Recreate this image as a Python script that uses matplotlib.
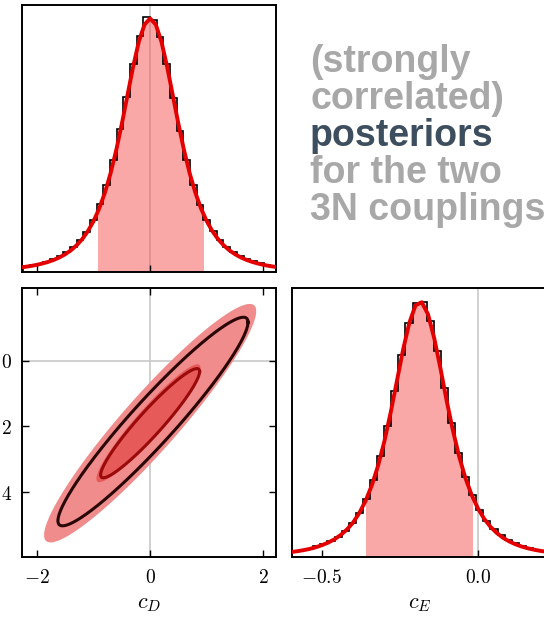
import numpy as np
import matplotlib
matplotlib.use("Agg")
import matplotlib.pyplot as plt
from matplotlib.patches import Rectangle
from matplotlib.ticker import FuncFormatter

plt.rcParams['mathtext.fontset'] = 'cm'

# marginal posterior of c_D (peak normalised to 1)
cD_edges = np.linspace(-2.24, 2.24, 39)
cD_hist = [0.024, 0.027, 0.032, 0.041, 0.050, 0.062, 0.079, 0.097, 0.125, 0.158,
           0.205, 0.268, 0.345, 0.442, 0.565, 0.690, 0.820, 0.930, 1.005, 0.995,
           0.925, 0.822, 0.688, 0.556, 0.440, 0.342, 0.266, 0.207, 0.162, 0.126,
           0.100, 0.080, 0.064, 0.052, 0.042, 0.034, 0.028, 0.023]
cD_grid = np.linspace(-2.3, 2.3, 47)
cD_curve = [0.0177, 0.0206, 0.0241, 0.0284, 0.0337, 0.0401, 0.0480, 0.0579, 0.0702, 0.0857,
            0.1052, 0.1298, 0.1611, 0.2006, 0.2504, 0.3124, 0.3887, 0.4797, 0.5843, 0.6976,
            0.8102, 0.9082, 0.9758, 1.0000, 0.9758, 0.9082, 0.8102, 0.6976, 0.5843, 0.4797,
            0.3887, 0.3124, 0.2504, 0.2006, 0.1611, 0.1298, 0.1052, 0.0857, 0.0702, 0.0579,
            0.0480, 0.0401, 0.0337, 0.0284, 0.0241, 0.0206, 0.0177]
cD_band = (-0.93, 0.93)

# marginal posterior of c_E
cE_edges = np.linspace(-0.596, 0.222, 37)
cE_hist = [0.022, 0.026, 0.032, 0.040, 0.050, 0.062, 0.079, 0.101, 0.131, 0.172,
           0.226, 0.300, 0.395, 0.512, 0.648, 0.790, 0.915, 0.995, 1.000, 0.925,
           0.805, 0.662, 0.525, 0.405, 0.312, 0.240, 0.184, 0.140, 0.108, 0.085,
           0.067, 0.053, 0.043, 0.035, 0.028, 0.023]
cE_grid = np.linspace(-0.60, 0.24, 43)
cE_curve = [0.0180, 0.0213, 0.0254, 0.0304, 0.0370, 0.0451, 0.0553, 0.0682, 0.0850, 0.1066,
            0.1343, 0.1718, 0.2192, 0.2802, 0.3572, 0.4519, 0.5634, 0.6870, 0.8115, 0.9163,
            0.9853, 0.9973, 0.9498, 0.8555, 0.7370, 0.6096, 0.4937, 0.3914, 0.3076, 0.2416,
            0.1891, 0.1486, 0.1175, 0.0933, 0.0745, 0.0601, 0.0487, 0.0399, 0.0329, 0.0273,
            0.0229, 0.0192, 0.0163]
cE_band = (-0.36, -0.02)

# joint posterior contours: (centre cD, centre cE, half length in cD, half width in cE, slope)
fill_outer = (0.0, -0.19, 1.875, 0.125, 0.182)
fill_inner = (-0.03, -0.19, 0.92, 0.060, 0.184)
line_outer = (0.05, -0.185, 1.68, 0.098, 0.180)
line_inner = (0.0, -0.19, 0.875, 0.054, 0.180)

cD_lim = (-2.265, 2.225)
cE_lim = (-0.597, 0.222)

red = '#e40000'
gray = '#c8c8c8'


def outline(p, n=300):
    x0, y0, a, b, k = p
    t = np.linspace(0, 2 * np.pi, n)
    return x0 + a * np.cos(t), y0 + k * a * np.cos(t) + b * np.sin(t)


def style(ax, lw=1.4):
    for s in ax.spines.values():
        s.set_linewidth(lw)
    ax.tick_params(direction='in', length=5, width=1.0, labelsize=14, pad=8)


def marginal(ax, edges, hist, grid, curve, band, lim, ticks):
    ax.axvline(0, color=gray, lw=1.2, zorder=0)
    fill = ax.fill_between(grid, 0, curve, color='#f55050', alpha=0.5, lw=0, zorder=1)
    fill.set_clip_path(Rectangle((band[0], 0), band[1] - band[0], 2, transform=ax.transData))
    ax.stairs(hist, edges, color='k', lw=1.2, zorder=2)
    ax.plot(grid, curve, color=red, lw=2.8, zorder=3)
    ax.set_xlim(lim)
    ax.set_ylim(0, 1.053)
    ax.set_yticks([])
    ax.set_xticks(ticks)
    style(ax)


fig = plt.figure(figsize=(5.44, 6.2), dpi=100)

ax_d = fig.add_axes([22 / 544, 1 - 272 / 620, 254 / 544, 267 / 620])
marginal(ax_d, cD_edges, cD_hist, cD_grid, cD_curve, cD_band, cD_lim, [-2, 0, 2])
ax_d.tick_params(labelbottom=False)

ax_e = fig.add_axes([291.7 / 544, 1 - 556.7 / 620, 255.5 / 544, 268.7 / 620])
marginal(ax_e, cE_edges, cE_hist, cE_grid, cE_curve, cE_band, cE_lim, [-0.5, 0.0])
ax_e.xaxis.set_major_formatter(FuncFormatter(lambda v, p: '$%.1f$' % v))
ax_e.set_xlabel('$c_E$', fontsize=16, labelpad=5)

ax_j = fig.add_axes([22 / 544, 1 - 556.7 / 620, 254 / 544, 268.7 / 620])
ax_j.axvline(0, color=gray, lw=1.2, zorder=0)
ax_j.axhline(0, color=gray, lw=1.2, zorder=0)
ax_j.fill(*outline(fill_outer), color='#f08c8c', lw=0, zorder=1)
ax_j.fill(*outline(fill_inner), color='#e65a5a', lw=0, zorder=2)
ax_j.plot(*outline(line_outer), color='#2a0606', lw=2.2, zorder=3)
ax_j.plot(*outline(line_inner), color='#9a0a0a', lw=2.2, zorder=3)
ax_j.set_xlim(cD_lim)
ax_j.set_ylim(cE_lim)
ax_j.set_xticks([-2, 0, 2])
ax_j.set_yticks([-0.4, -0.2, 0.0])
ax_j.xaxis.set_major_formatter(FuncFormatter(lambda v, p: '$%g$' % v))
ax_j.yaxis.set_major_formatter(FuncFormatter(lambda v, p: '$%.1f$' % v))
style(ax_j)
ax_j.tick_params(top=True, right=True)
ax_j.tick_params(axis='y', pad=7)
ax_j.set_xlabel('$c_D$', fontsize=16, labelpad=5)

# side caption
lines = ['(strongly', 'correlated)', 'posteriors', 'for the two', '3N couplings']
colors = ['#a8a8a8', '#a8a8a8', '#3d4e5e', '#a8a8a8', '#a8a8a8']
baselines = [72, 109, 146, 183, 220]
for txt, c, yb in zip(lines, colors, baselines):
    fig.text(310 / 544, 1 - yb / 620, txt, color=c, fontsize=27, fontweight='bold',
             family='Liberation Sans', va='baseline', ha='left')

fig.savefig('out.png', dpi=100)
